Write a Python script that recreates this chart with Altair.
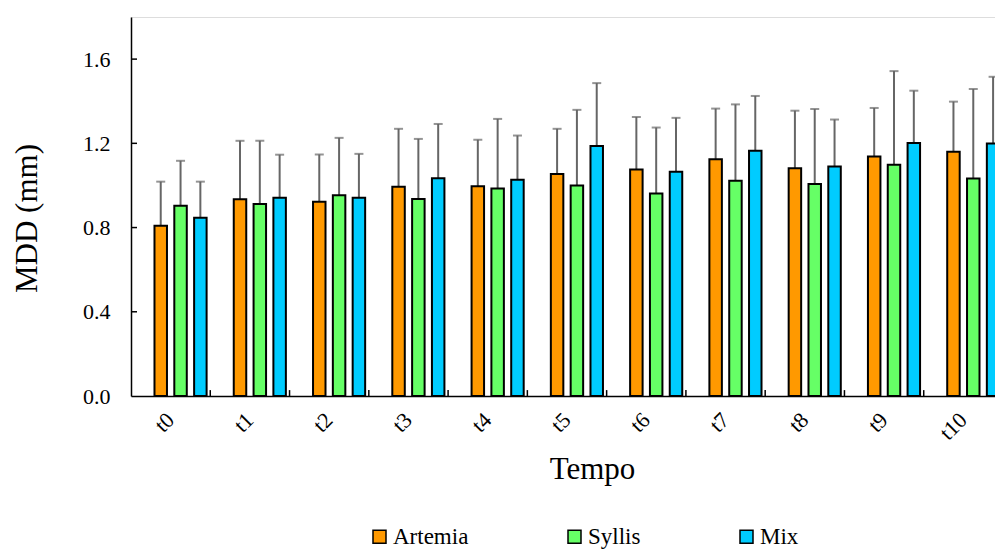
import altair as alt
import pandas as pd

# ---- data ----
times = ["t0", "t1", "t2", "t3", "t4", "t5", "t6", "t7", "t8", "t9", "t10"]
groups = ["Artemia", "Syllis", "Mix"]
colors = ["#FF9900", "#66FF66", "#00CCFF"]

artemia_mean = [0.809, 0.934, 0.923, 0.994, 0.996, 1.054, 1.076, 1.125, 1.082, 1.138, 1.160]
artemia_sd = [0.209, 0.278, 0.224, 0.275, 0.221, 0.215, 0.249, 0.240, 0.273, 0.230, 0.238]
syllis_mean = [0.904, 0.912, 0.953, 0.936, 0.986, 1.000, 0.962, 1.022, 1.007, 1.098, 1.033]
syllis_sd = [0.213, 0.300, 0.273, 0.285, 0.330, 0.359, 0.313, 0.363, 0.356, 0.445, 0.425]
mix_mean = [0.847, 0.942, 0.942, 1.034, 1.027, 1.187, 1.065, 1.165, 1.090, 1.202, 1.199]
mix_sd = [0.171, 0.204, 0.208, 0.258, 0.210, 0.299, 0.256, 0.260, 0.223, 0.248, 0.317]

y_ticks = [0.0, 0.4, 0.8, 1.2, 1.6]

rows = []
for g, means, sds in [("Artemia", artemia_mean, artemia_sd),
                      ("Syllis", syllis_mean, syllis_sd),
                      ("Mix", mix_mean, mix_sd)]:
    for t, m, s in zip(times, means, sds):
        rows.append({"Tempo": t, "Dieta": g, "MDD": m, "upper": m + s})
df = pd.DataFrame(rows)

xtick_df = pd.DataFrame({"Tempo": times[1:], "y0": [0.0] * 10, "y1": [0.028] * 10})
ytick_df = pd.DataFrame({"v": y_ticks[1:]})

FONT = "Liberation Serif"

xscale = alt.Scale(domain=times, range=[0, 872], paddingInner=0, paddingOuter=0)
offscale = alt.Scale(domain=["_pad"] + groups, paddingInner=0.37, paddingOuter=0.185)
yscale = alt.Scale(domain=[0, 1.8], nice=False, zero=True)

xaxis = alt.Axis(title="Tempo", ticks=False, tickSize=0, labelAngle=-45,
                 labelAlign="right", labelBaseline="middle", labelPadding=20,
                 labelFontSize=22, labelFont=FONT, labelColor="black",
                 domainColor="black", domainWidth=1.5, grid=False,
                 titleFont=FONT, titleFontSize=31, titleFontWeight="normal",
                 titleColor="black", titleX=461, titleY=82,
                 titleBaseline="alphabetic", titleAlign="center")
yaxis = alt.Axis(title="MDD (mm)", values=y_ticks, format=".1f", ticks=False,
                 tickSize=0, labelPadding=21, labelFontSize=22, labelFont=FONT,
                 labelColor="black", domainColor="black", domainWidth=1.5,
                 grid=False, titleFont=FONT, titleFontSize=31,
                 titleFontWeight="normal", titleColor="black",
                 titleX=-104, titleY=201, titleBaseline="middle",
                 titleAlign="center", titleAngle=-90)

base = alt.Chart(df)

err = base.mark_rule(color="#666666", strokeWidth=2).encode(
    x=alt.X("Tempo:N", scale=xscale, axis=xaxis, title="Tempo"),
    xOffset=alt.XOffset("Dieta:N", scale=offscale),
    y=alt.Y("MDD:Q", scale=yscale, axis=yaxis, title="MDD (mm)"),
    y2="upper:Q",
)

caps = base.mark_tick(color="#666666", thickness=2, size=9).encode(
    x=alt.X("Tempo:N", scale=xscale, axis=xaxis, title="Tempo"),
    xOffset=alt.XOffset("Dieta:N", scale=offscale),
    y=alt.Y("upper:Q", scale=yscale, axis=yaxis, title="MDD (mm)"),
)

bars = base.mark_bar(stroke="black", strokeWidth=2).encode(
    x=alt.X("Tempo:N", scale=xscale, axis=xaxis, title="Tempo"),
    xOffset=alt.XOffset("Dieta:N", scale=offscale),
    y=alt.Y("MDD:Q", scale=yscale, axis=yaxis, title="MDD (mm)"),
    color=alt.Color("Dieta:N", scale=alt.Scale(domain=groups, range=colors),
                    legend=alt.Legend(title=None, orient="none", legendX=237, legendY=508,
                                      direction="horizontal", symbolType="square",
                                      symbolSize=169, symbolStrokeColor="black",
                                      symbolStrokeWidth=1.5, symbolOpacity=1,
                                      labelFontSize=23, labelFont=FONT, labelColor="black",
                                      labelOffset=2, columnPadding=94, padding=0)),
)

xticks = alt.Chart(xtick_df).mark_rule(color="black", strokeWidth=1.5).encode(
    x=alt.X("Tempo:N", scale=xscale, bandPosition=0, axis=xaxis, title="Tempo"),
    y=alt.Y("y0:Q", scale=yscale, axis=yaxis, title="MDD (mm)"),
    y2="y1:Q",
)

yticks = alt.Chart(ytick_df).mark_rule(color="black", strokeWidth=1.5).encode(
    x=alt.value(0),
    x2=alt.value(6),
    y=alt.Y("v:Q", scale=yscale, axis=yaxis, title="MDD (mm)"),
)

chart = alt.layer(err, bars, caps, xticks, yticks).properties(
    width=864,
    height=379,
    autosize=alt.AutoSizeParams(type="none"),
    padding={"left": 131, "top": 17, "right": 0, "bottom": 154},
    background="white",
).configure_view(stroke=None).configure_axis(
    labelFont=FONT, titleFont=FONT, labelColor="black", titleColor="black"
).configure_axisX(
    labelFontSize=22, labelAngle=-45, labelFont=FONT
).configure_axisY(
    labelFontSize=22, labelFont=FONT
).configure_legend(
    labelFont=FONT, labelFontSize=23, labelColor="black"
).configure(font=FONT)

chart.save("out.html", embed_options={"renderer": "svg", "actions": False})
